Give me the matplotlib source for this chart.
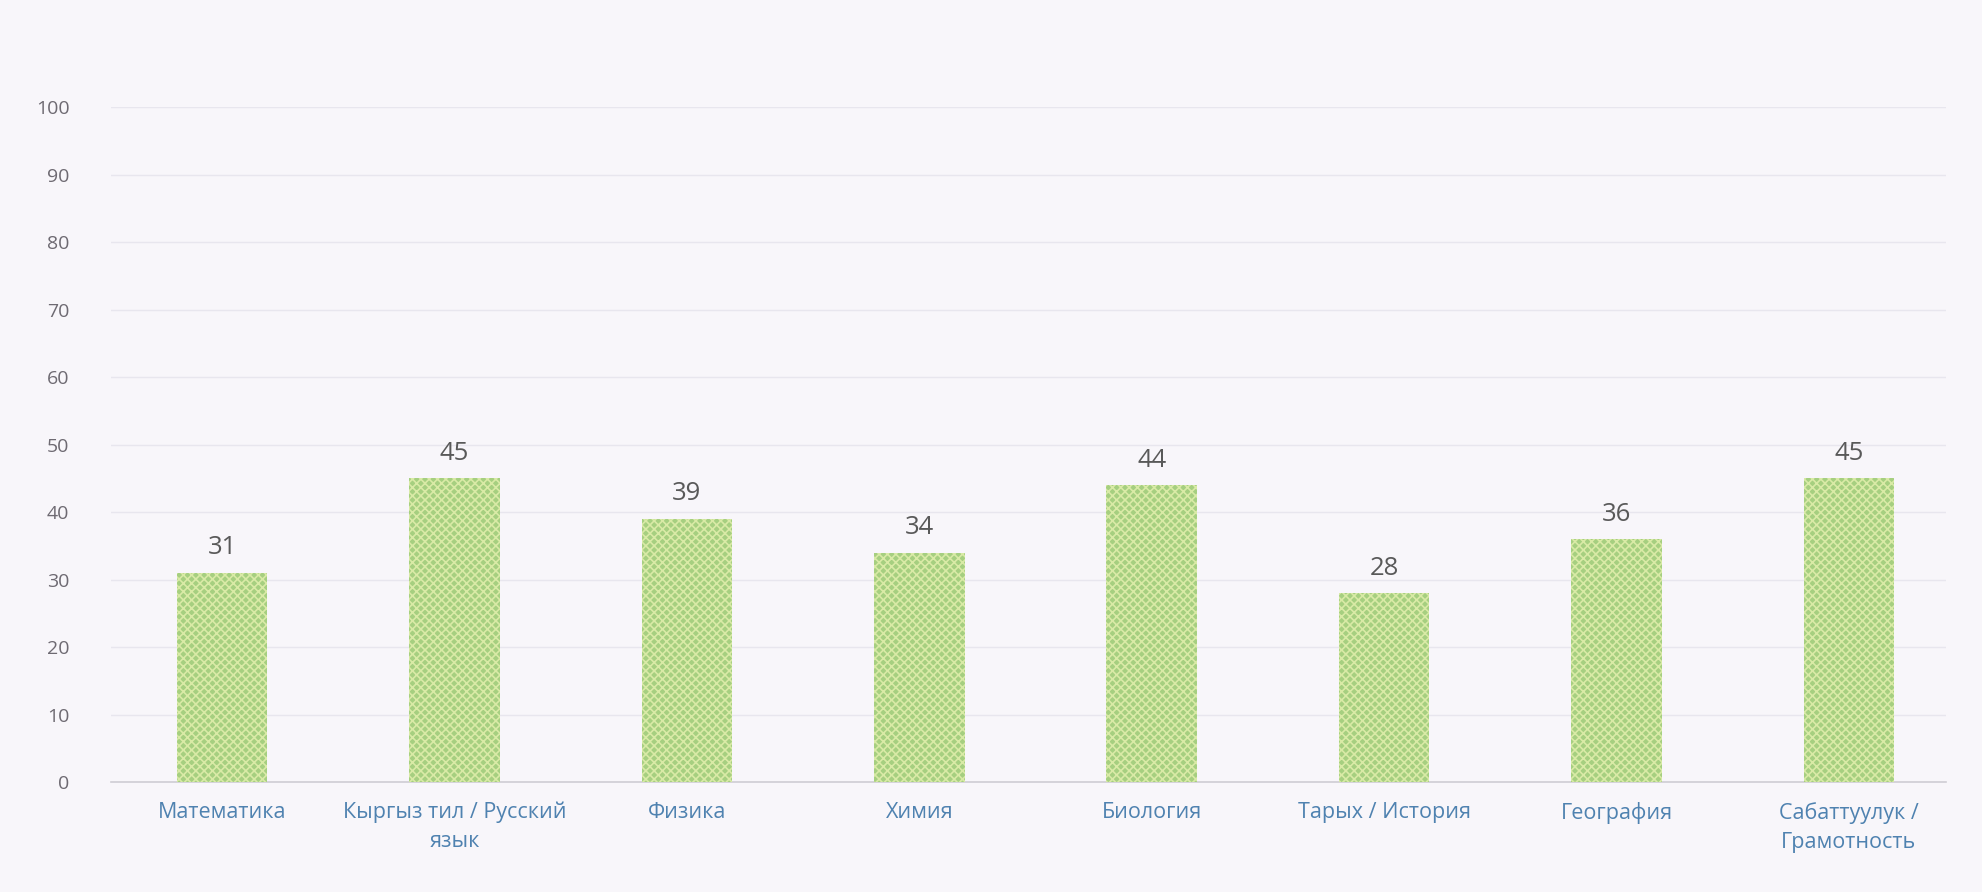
#!/usr/bin/env python3
import matplotlib
matplotlib.use('Agg')
import matplotlib.pyplot as plt
import numpy as np

subjects = ['Математика', 'Кыргыз тил / Русский\nязык', 'Физика', 'Химия',
            'Биология', 'Тарых / История', 'География', 'Сабаттуулук /\nГрамотность']
scores = [31, 45, 39, 34, 44, 28, 36, 45]
yticks = [0, 10, 20, 30, 40, 50, 60, 70, 80, 90, 100]

bg = '#f8f6fa'
plt.rcParams['font.family'] = ['Open Sans', 'DejaVu Sans']
plt.rcParams['hatch.linewidth'] = 1.2

fig = plt.figure(figsize=(19.82, 8.92), dpi=100, facecolor=bg)
ax = fig.add_axes([0.056, 0.123, 0.926, 0.757])
ax.set_facecolor(bg)

x = np.arange(len(subjects))
bars = ax.bar(x, scores, width=0.39, color='#a6cf80', hatch='xxxx',
              edgecolor='#d9eaa6', linewidth=0, zorder=3)

for xi, v in zip(x, scores):
    ax.annotate(str(v), (xi, v), xytext=(0, 9), textcoords='offset points',
                ha='center', va='bottom', fontsize=18.5, color='#595959')

ax.set_ylim(0, 100)
ax.set_xlim(-0.478, len(subjects) - 0.581)
ax.set_yticks(yticks)
ax.set_yticklabels([str(t) for t in yticks], fontsize=14, color='#6e6a72')
ax.set_xticks(x)
ax.set_xticklabels(subjects, fontsize=15.5, color='#4f82b0', linespacing=1.5)
ax.tick_params(axis='both', length=0)
ax.tick_params(axis='y', pad=30)
ax.tick_params(axis='x', pad=14)

ax.grid(axis='y', color='#e8e6ee', linewidth=1, zorder=0)
for s in ['top', 'right', 'left']:
    ax.spines[s].set_visible(False)
ax.spines['bottom'].set_color('#cfcdd4')
ax.spines['bottom'].set_linewidth(1.2)

plt.savefig('out.png', dpi=100, facecolor=bg)
